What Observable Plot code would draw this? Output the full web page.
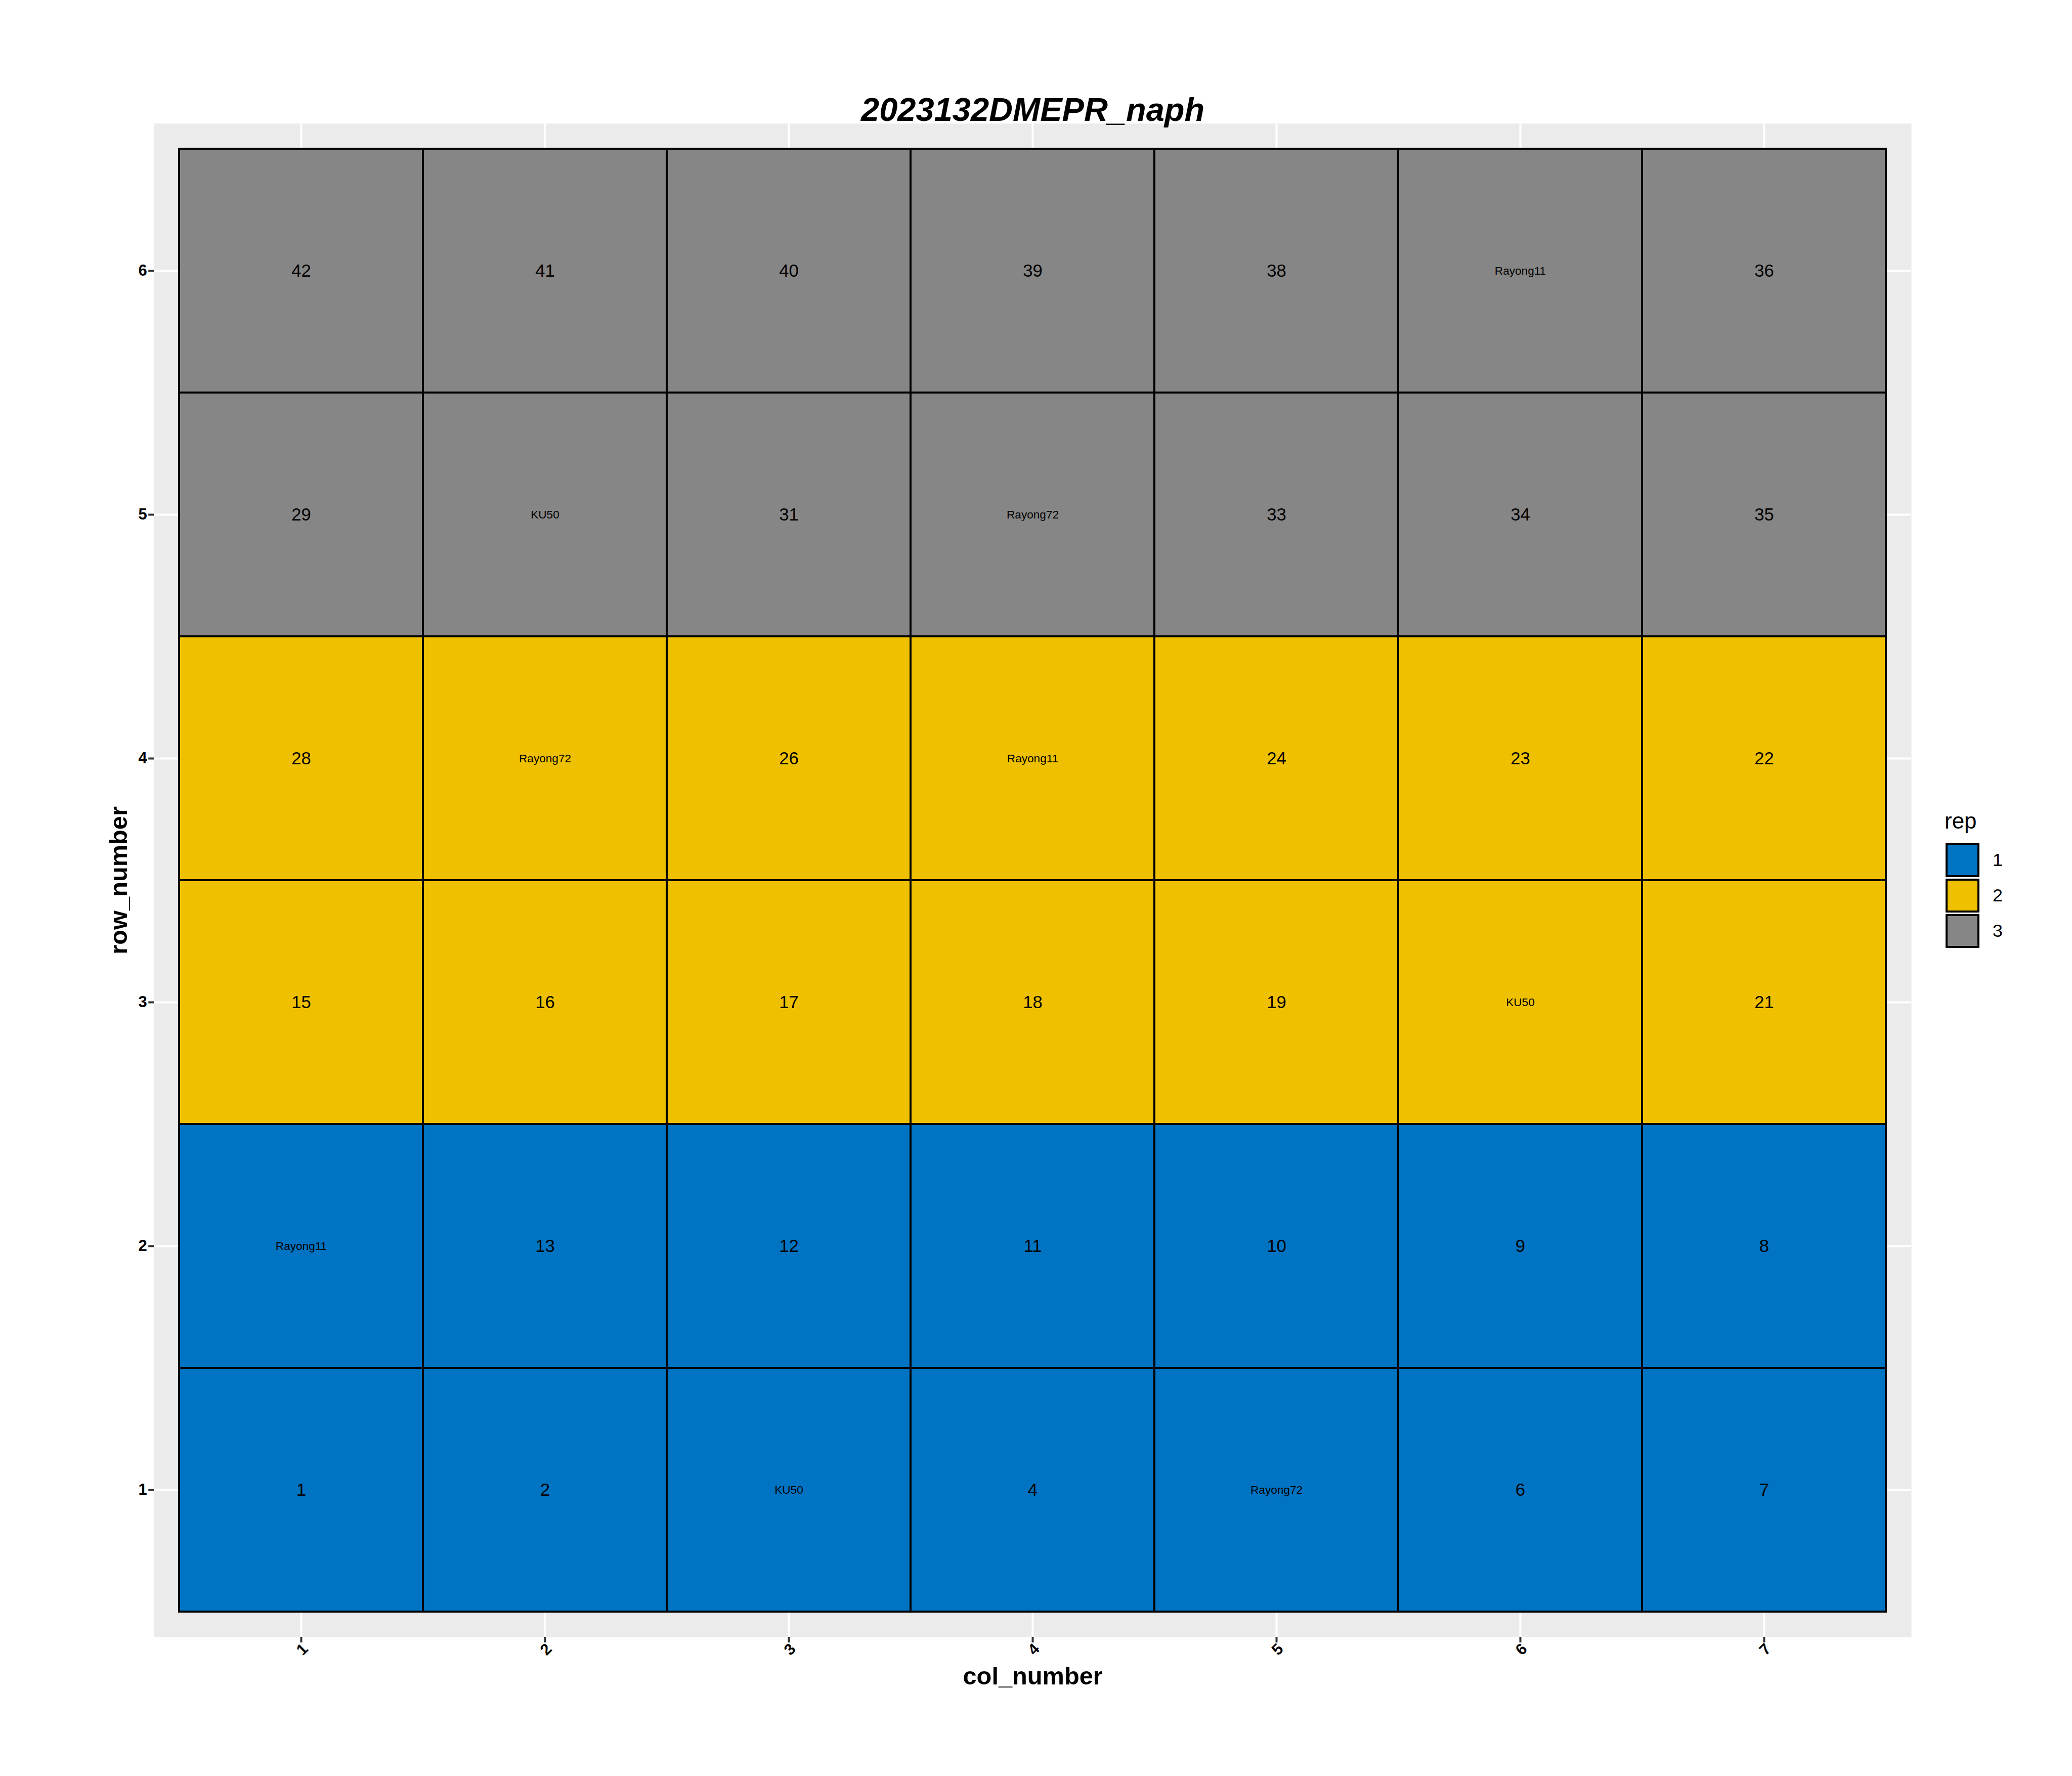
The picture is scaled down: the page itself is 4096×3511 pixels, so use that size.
<!DOCTYPE html>
<html>
<head>
<meta charset="utf-8">
<script src="https://cdn.jsdelivr.net/npm/d3@7"></script>
<script src="https://cdn.jsdelivr.net/npm/@observablehq/plot@0.6"></script>
<style>
  html, body { margin: 0; padding: 0; background: #ffffff; }
  #wrap { position: relative; width: 4096px; height: 3511px; overflow: hidden; font-family: "Liberation Sans", Arial, sans-serif; }
  #wrap > svg { position: absolute; left: 0; top: 0; }
  #legend-title { position: absolute; left: 3844px; top: 1601px; font-size: 44px; line-height: 1; color: #000; font-family: "Liberation Sans", Arial, sans-serif; }
  #legend { position: absolute; left: 3848px; top: 1669px; width: 220px; }
  #legend .rl-swatches { font-family: "Liberation Sans", Arial, sans-serif !important; font-size: 35.8px !important; color: #000 !important; margin: 0 !important; columns: 1 !important; }
  #legend .rl-swatch { display: flex !important; align-items: center !important; padding: 0 0 7.2px 0 !important; margin: 0 !important; }
  #legend .rl-swatch svg { overflow: visible !important; margin-right: 28px !important; flex-shrink: 0; }
  #legend .rl-swatch svg rect { stroke: #000; stroke-width: 4px; }
  #legend .rl-swatch-label { overflow: visible !important; max-width: none !important; }
</style>
</head>
<body>
<div id="wrap"></div>
<script>
// ---- data ----
const colValues = [1, 2, 3, 4, 5, 6, 7];
const rowValues = [6, 5, 4, 3, 2, 1];
const repLevels = [1, 2, 3];
const repColors = ["#0073C2", "#EFC000", "#868686"];

const rowNumber = [
  1, 1, 1, 1, 1, 1, 1,
  2, 2, 2, 2, 2, 2, 2,
  3, 3, 3, 3, 3, 3, 3,
  4, 4, 4, 4, 4, 4, 4,
  5, 5, 5, 5, 5, 5, 5,
  6, 6, 6, 6, 6, 6, 6
];
const colNumber = [
  1, 2, 3, 4, 5, 6, 7,
  1, 2, 3, 4, 5, 6, 7,
  1, 2, 3, 4, 5, 6, 7,
  1, 2, 3, 4, 5, 6, 7,
  1, 2, 3, 4, 5, 6, 7,
  1, 2, 3, 4, 5, 6, 7
];
const rep = [
  1, 1, 1, 1, 1, 1, 1,
  1, 1, 1, 1, 1, 1, 1,
  2, 2, 2, 2, 2, 2, 2,
  2, 2, 2, 2, 2, 2, 2,
  3, 3, 3, 3, 3, 3, 3,
  3, 3, 3, 3, 3, 3, 3
];
const plotLabel = [
  "1", "2", "KU50", "4", "Rayong72", "6", "7",
  "Rayong11", "13", "12", "11", "10", "9", "8",
  "15", "16", "17", "18", "19", "KU50", "21",
  "28", "Rayong72", "26", "Rayong11", "24", "23", "22",
  "29", "KU50", "31", "Rayong72", "33", "34", "35",
  "42", "41", "40", "39", "38", "Rayong11", "36"
];
const checks = ["KU50", "Rayong11", "Rayong72"];

const titleText = "2023132DMEPR_naph";
const xTitle = "col_number";
const yTitle = "row_number";
const legendTitle = "rep";

const table = rowNumber.map((r, i) => ({
  row_number: r,
  col_number: colNumber[i],
  rep: rep[i],
  label: plotLabel[i]
}));
const numbered = table.filter(d => !checks.includes(d.label));
const checkPlots = table.filter(d => checks.includes(d.label));

const FONT = "Liberation Sans, Arial, sans-serif";

const plot = Plot.plot({
  width: 4096,
  height: 3511,
  marginLeft: 304.2,
  marginRight: 317.9,
  marginTop: 243.75,
  marginBottom: 275,
  style: { fontFamily: FONT, background: "#ffffff", color: "#000000" },
  x: { type: "band", domain: colValues, paddingInner: 0, paddingOuter: 0.1, align: 0.5, label: null },
  y: { type: "band", domain: rowValues, paddingInner: 0, paddingOuter: 0.1, align: 0.5, label: null },
  color: { type: "ordinal", domain: repLevels, range: repColors },
  marks: [
    Plot.frame({ fill: "#EBEBEB", stroke: "none" }),
    Plot.gridX({ stroke: "#FFFFFF", strokeOpacity: 1, strokeWidth: 4 }),
    Plot.gridY({ stroke: "#FFFFFF", strokeOpacity: 1, strokeWidth: 4 }),
    Plot.cell(table, { x: "col_number", y: "row_number", fill: "rep", stroke: "#000000", strokeWidth: 3.9 }),
    Plot.text(numbered, { x: "col_number", y: "row_number", text: "label", fontSize: 34.7, fill: "#000000", lineAnchor: "middle" }),
    Plot.text(checkPlots, { x: "col_number", y: "row_number", text: "label", fontSize: 22.6, fill: "#000000", lineAnchor: "middle" }),
    Plot.axisY({ tickSize: 11, tickPadding: 3, stroke: "#333333", strokeWidth: 4, fill: "#000000", fontSize: 31, fontWeight: "bold", label: null }),
    Plot.axisX({ tickSize: 11, tickPadding: 3, stroke: "#333333", strokeWidth: 4, tickFormat: () => "", label: null }),
    Plot.text(colValues, { x: d => d, text: d => String(d), frameAnchor: "bottom", dy: 24.4, dx: 2, rotate: -45,
      textAnchor: "middle", lineAnchor: "middle", fontSize: 31, fontWeight: "bold", fill: "#000000" }),
    Plot.text([xTitle], { text: d => d, frameAnchor: "bottom", dy: 78, textAnchor: "middle", lineAnchor: "middle",
      fontSize: 48.75, fontWeight: "bold", fill: "#000000" }),
    Plot.text([yTitle], { text: d => d, frameAnchor: "left", dx: -69, rotate: -90, textAnchor: "middle", lineAnchor: "middle",
      fontSize: 48.75, fontWeight: "bold", fill: "#000000" }),
    Plot.text([titleText], { text: d => d, frameAnchor: "top", dy: -26.5, textAnchor: "middle", lineAnchor: "middle",
      fontSize: 65, fontWeight: "bold", fontStyle: "italic", fill: "#000000" })
  ]
});

const wrap = document.getElementById("wrap");
wrap.appendChild(plot);

const lt = document.createElement("div");
lt.id = "legend-title";
lt.textContent = legendTitle;
wrap.appendChild(lt);

const legendHolder = document.createElement("div");
legendHolder.id = "legend";
const legend = plot.legend("color", { legend: "swatches", columns: 1, swatchSize: 63, className: "rl" });
legendHolder.appendChild(legend);
wrap.appendChild(legendHolder);
</script>
</body>
</html>
